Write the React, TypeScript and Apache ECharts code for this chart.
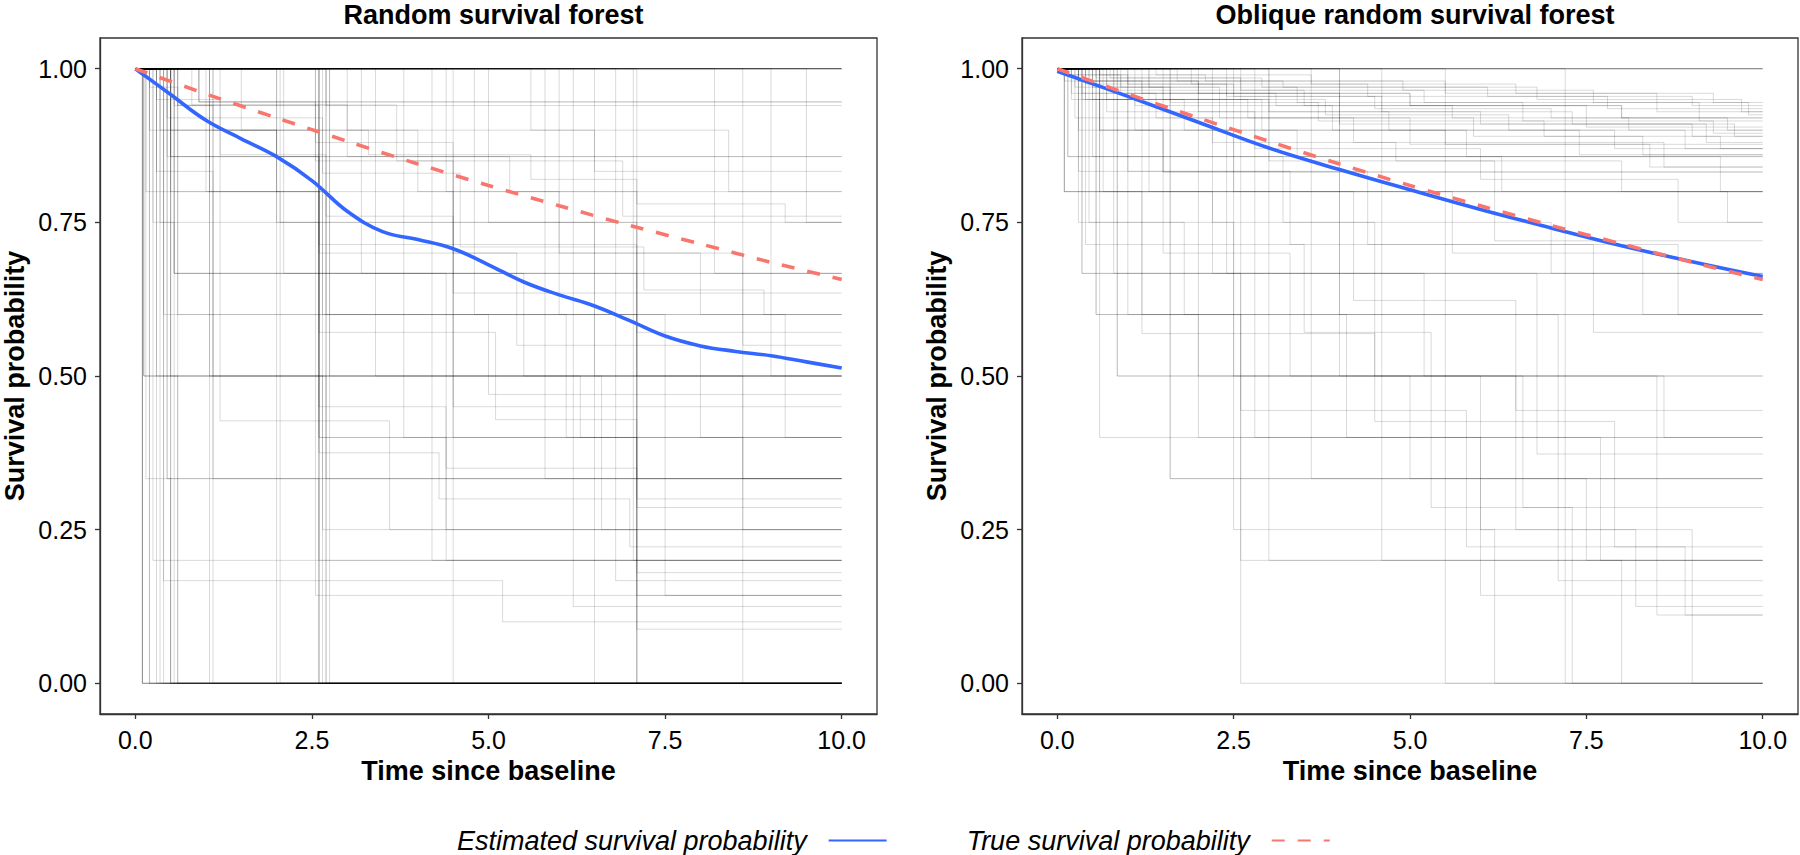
import React, { useEffect, useRef } from "react";
import * as echarts from "echarts";

// ---------- data ----------
const xTicks = [0, 2.5, 5, 7.5, 10];
const yTicks = [0, 0.25, 0.5, 0.75, 1];
const panelTitles = ["Random survival forest", "Oblique random survival forest"];
const xAxisTitle = "Time since baseline";
const yAxisTitle = "Survival probability";
const legendNames = ["Estimated survival probability", "True survival probability"];

// estimated (smoothed) survival, left panel
const rsfEstimated: [number, number][] = [
  [0, 1], [0.5, 0.958], [1, 0.916], [1.5, 0.886], [2, 0.857], [2.5, 0.818],
  [3, 0.768], [3.5, 0.735], [4, 0.722], [4.5, 0.707], [5, 0.681], [5.5, 0.653],
  [6, 0.632], [6.5, 0.614], [7, 0.59], [7.5, 0.565], [8, 0.549], [8.5, 0.54],
  [9, 0.533], [9.5, 0.523], [10, 0.513],
];

// estimated survival, right panel
const orsfEstimated: [number, number][] = [
  [0, 0.996], [1, 0.955], [2, 0.913], [3, 0.871], [4, 0.836], [5, 0.803],
  [6, 0.771], [7, 0.741], [8, 0.712], [9, 0.686], [10, 0.662],
];

// true survival probability (both panels)
const trueSurvival: [number, number][] = [
  [0, 1], [1, 0.959], [2, 0.92], [3, 0.882], [4, 0.845], [5, 0.81],
  [6, 0.777], [7, 0.745], [8, 0.715], [9, 0.685], [10, 0.657],
];

// individual predicted survival curves: [count, [[event time, survival after], ...]]
const rsfCurves: [number, [number, number][]][] = [
  [10, []],
  [4, [[0.1, 0]]],
  [2, [[0.2, 0]]],
  [2, [[0.5, 0]]],
  [1, [[0.3, 0]]],
  [1, [[0.35, 0]]],
  [1, [[0.4, 0]]],
  [1, [[0.6, 0]]],
  [1, [[1.05, 0]]],
  [1, [[1.1, 0]]],
  [1, [[2.0, 0]]],
  [1, [[2.05, 0]]],
  [2, [[2.6, 0]]],
  [1, [[2.65, 0]]],
  [1, [[2.7, 0]]],
  [1, [[2.75, 0]]],
  [1, [[4.5, 0]]],
  [1, [[7.1, 0]]],
  [1, [[8.6, 0]]],
  [1, [[6.5, 0]]],
  [3, [[0.12, 0.5]]],
  [2, [[0.45, 0.333]]],
  [2, [[0.55, 0.667]]],
  [2, [[0.5, 0.857]]],
  [2, [[0.9, 0.946]]],
  [1, [[0.6, 0.6], [4.5, 0.4]]],
  [1, [[0.3, 0.5], [0.6, 0]]],
  [1, [[0.25, 0.75], [0.55, 0]]],
  [1, [[0.15, 0.333], [0.5, 0]]],
  [1, [[0.55, 0.667], [1.1, 0.333], [2.6, 0]]],
  [1, [[0.4, 0.6], [2.6, 0.2], [7.1, 0]]],
  [1, [[1.05, 0.8], [2.05, 0.75]]],
  [1, [[2.0, 0.857], [2.6, 0.714], [7.1, 0.571]]],
  [1, [[2.7, 0.333]]],
  [1, [[2.75, 0.5], [4.4, 0.25]]],
  [1, [[0.35, 0.75], [1.1, 0.5], [2.65, 0.25], [7.1, 0]]],
  [1, [[3.2, 0.667], [5.5, 0.5], [8.6, 0.333]]],
  [1, [[4.4, 0.8], [7.1, 0.6]]],
  [1, [[5.0, 0.75], [6.5, 0.5]]],
  [1, [[7.05, 0.2]]],
  [1, [[1.5, 0.9], [4.0, 0.8], [6.0, 0.7], [8.0, 0.6]]],
  [1, [[0.25, 0.2]]],
  [1, [[0.4, 0.167], [5.2, 0.1]]],
  [1, [[2.55, 0.143]]],
  [1, [[1.2, 0.427], [3.6, 0.25]]],
  [1, [[0.8, 0.941], [3.0, 0.9], [6.5, 0.833]]],
  [1, [[0.2, 0.9], [2.6, 0.75], [4.5, 0.6], [7.1, 0.4], [8.6, 0.25]]],
  [1, [[6.8, 0.167]]],
  [1, [[9.0, 0.5]]],
  [1, [[3.8, 0.4], [7.1, 0.088]]],
  [1, [[2.6, 0.6], [5.0, 0.47]]],
  [1, [[5.8, 0.333]]],
  [1, [[0.3, 0.95], [1.2, 0.86], [2.7, 0.76], [4.5, 0.635]]],
  [1, [[2.1, 0.667], [4.4, 0.5], [7.1, 0.333]]],
  [1, [[9.5, 0.75]]],
  [1, [[6.2, 0.125]]],
  [1, [[3.0, 0.857], [5.3, 0.8]]],
  [1, [[1.05, 0.5], [2.7, 0]]],
  [1, [[0.5, 0.8], [2.6, 0.4]]],
  [1, [[4.2, 0.2]]],
  [1, [[8.2, 0.667]]],
  [1, [[2.55, 0.88], [4.5, 0.75], [7.1, 0.5]]],
  [1, [[0.2, 0.97], [0.6, 0.94], [2.6, 0.9], [3.3, 0.86], [5.6, 0.82], [7.1, 0.78], [9.2, 0.75]]],
  [1, [[0.45, 0.92], [2.65, 0.83], [4.6, 0.71], [7.2, 0.64], [8.9, 0.6]]],
  [1, [[1.1, 0.75], [2.6, 0.5], [6.3, 0.4], [7.1, 0.286]]],
  [1, [[0.5, 0.5], [2.6, 0.375], [4.3, 0.3], [7.0, 0.222]]],
  [1, [[0.3, 0.833], [1.1, 0.667], [2.6, 0.4], [4.4, 0.2]]],
  [1, [[0.5, 0.9], [2.0, 0.8], [2.7, 0.6], [7.1, 0.45]]],
  [1, [[0.45, 0.857], [2.6, 0.571], [5.1, 0.429], [7.1, 0.143]]],
  [1, [[0.9, 0.946], [2.55, 0.85], [4.5, 0.7], [8.6, 0.55]]],
  [1, [[0.6, 0.941], [3.7, 0.85], [6.9, 0.76]]],
  [1, [[0.15, 0.8], [2.65, 0.6], [6.1, 0.4], [7.1, 0.2]]],
  [1, [[2.6, 0.8], [4.5, 0.45], [7.1, 0.3]]],
  [1, [[3.4, 0.5], [6.6, 0.25]]],
  [1, [[4.8, 0.6], [7.5, 0.143]]],
  [1, [[0.55, 0.94], [1.1, 0.9], [2.6, 0.7], [5.4, 0.55], [8.0, 0.4]]],
  [1, [[1.0, 0.8], [2.6, 0.667], [7.1, 0.5]]],
  [1, [[0.35, 0.9], [2.0, 0.75], [2.6, 0.45], [4.4, 0.35], [7.1, 0.18]]],
  [1, [[5.6, 0.9], [8.4, 0.8]]],
  [1, [[2.7, 0.94]]],
  [1, [[6.0, 0.6], [9.2, 0.4]]],
];

const orsfCurves: [number, [number, number][]][] = [
  [5, []],
  [2, [[0.3, 0.98], [2.0, 0.96], [5.0, 0.94], [8.0, 0.92]]],
  [1, [[0.5, 0.97], [1.5, 0.95], [3.0, 0.93], [6.0, 0.91], [9.0, 0.89]]],
  [1, [[0.2, 0.99], [1.0, 0.975], [2.5, 0.955], [4.5, 0.935], [7.0, 0.92], [9.5, 0.9]]],
  [1, [[0.8, 0.965], [3.5, 0.94], [7.5, 0.905]]],
  [2, [[0.15, 0.857]]],
  [1, [[0.4, 0.95], [1.8, 0.9], [5.5, 0.877]]],
  [3, [[0.1, 0.8]]],
  [2, [[0.6, 0.9], [1.5, 0.832]]],
  [2, [[0.35, 0.667]]],
  [2, [[0.55, 0.6]]],
  [2, [[0.85, 0.5]]],
  [1, [[0.6, 0.8], [1.2, 0.6], [2.0, 0.4]]],
  [1, [[0.6, 0.4]]],
  [2, [[1.6, 0.333]]],
  [1, [[0.3, 0.75], [2.5, 0.5], [5.0, 0.333], [7.5, 0.2]]],
  [1, [[1.0, 0.6], [2.6, 0.2]]],
  [1, [[2.6, 0]]],
  [1, [[0.4, 0.714], [3.5, 0.571], [5.3, 0.286], [7.3, 0]]],
  [1, [[1.3, 0.8], [4.2, 0.623], [6.5, 0.444]]],
  [1, [[2.2, 0.75], [4.5, 0.5], [6.5, 0.25], [8.2, 0.125]]],
  [1, [[0.7, 0.93], [2.8, 0.87], [6.0, 0.82], [8.8, 0.75]]],
  [1, [[3.0, 0.85], [6.2, 0.72]]],
  [1, [[0.9, 0.96], [4.0, 0.91], [9.2, 0.88]]],
  [1, [[1.7, 0.98], [5.5, 0.96], [8.5, 0.93]]],
  [1, [[0.25, 0.92], [2.2, 0.88], [4.8, 0.85], [8.0, 0.8]]],
  [1, [[5.5, 0]]],
  [1, [[3.6, 0.333], [7.1, 0.167]]],
  [1, [[2.8, 0.4], [6.0, 0.143]]],
  [1, [[4.0, 0.5], [8.5, 0.111]]],
  [1, [[1.2, 0.569], [4.5, 0.426], [7.9, 0.222]]],
  [1, [[2.4, 0.667], [6.8, 0.373]]],
  [1, [[0.5, 0.95], [2.9, 0.9], [5.8, 0.857], [9.4, 0.8]]],
  [1, [[0.45, 0.98], [3.2, 0.97], [6.8, 0.95], [9.7, 0.93]]],
  [1, [[7.2, 0]]],
  [1, [[4.6, 0.2]]],
  [1, [[1.1, 0.94], [3.9, 0.9], [7.4, 0.86]]],
  [1, [[0.3, 0.833], [3.3, 0.714], [8.8, 0.6]]],
  [1, [[0.2, 0.96], [1.4, 0.92], [4.2, 0.88], [8.6, 0.84]]],
  [1, [[2.0, 0.5], [6.0, 0.25], [9.0, 0]]],
  [1, [[0.75, 0.985], [2.6, 0.965], [5.2, 0.945], [9.1, 0.915]]],
  [1, [[1.9, 0.975], [4.4, 0.955], [7.8, 0.935]]],
  [1, [[0.15, 0.99], [0.9, 0.97], [2.3, 0.95], [3.8, 0.925], [6.4, 0.9], [8.9, 0.87]]],
  [1, [[0.6, 0.99], [2.1, 0.98], [4.9, 0.965], [7.6, 0.945], [9.8, 0.925]]],
  [1, [[1.3, 0.97], [3.4, 0.945], [6.6, 0.915], [9.3, 0.895]]],
  [1, [[0.35, 0.95], [2.7, 0.92], [5.9, 0.89], [8.3, 0.86]]],
  [1, [[0.1, 0.98], [1.2, 0.96], [3.1, 0.94], [5.6, 0.92], [8.1, 0.9]]],
  [1, [[0.4, 0.975], [2.4, 0.955], [4.6, 0.93], [7.3, 0.91], [9.6, 0.89]]],
  [1, [[0.25, 0.97], [1.6, 0.945], [3.7, 0.915], [6.9, 0.89], [9.4, 0.87]]],
  [1, [[0.55, 0.985], [2.9, 0.97], [6.1, 0.955], [9.0, 0.94]]],
  [1, [[0.2, 0.95], [1.1, 0.9], [3.4, 0.857], [6.3, 0.8], [9.5, 0.75]]],
  [1, [[0.3, 0.9], [2.5, 0.8], [5.6, 0.7], [8.3, 0.6]]],
  [1, [[0.5, 0.857], [3.2, 0.75], [7.0, 0.667]]],
  [1, [[0.65, 0.8], [2.2, 0.667], [5.2, 0.5], [8.6, 0.4]]],
  [1, [[0.45, 0.75], [1.8, 0.6], [4.1, 0.4], [7.7, 0.2]]],
  [1, [[1.5, 0.7], [3.3, 0.5], [6.6, 0.286]]],
  [1, [[0.8, 0.667], [2.6, 0.444], [5.8, 0.222], [8.9, 0.111]]],
  [1, [[2.5, 0.25], [6.2, 0]]],
  [1, [[1.0, 0.833], [4.4, 0.714], [7.6, 0.571]]],
  [1, [[0.35, 0.96], [2.0, 0.93], [4.7, 0.9], [7.9, 0.87]]],
  [1, [[1.4, 0.99], [3.6, 0.975], [6.5, 0.96], [9.3, 0.945]]],
  [1, [[0.7, 0.95], [2.3, 0.92], [5.0, 0.877], [8.4, 0.84]]],
  [1, [[4.0, 0.6], [7.1, 0.333]]],
  [1, [[3.0, 0.2], [8.0, 0]]],
];

// ---------- styling ----------
const FONT = "'Liberation Sans', Arial, Helvetica, sans-serif";
const BLUE = "#3366FF";
const RED = "#F8766D";
const GRIDS = [
  { left: 100, top: 38, width: 777, height: 676 },
  { left: 1022, top: 38, width: 776, height: 676 },
];

function curveSeries(curves: [number, [number, number][]][], idx: number) {
  return curves.map(([count, steps], k) => {
    const last = steps.length ? steps[steps.length - 1][1] : 1;
    const data: [number, number][] = [[0, 1], ...steps, [10, last]];
    return {
      type: "line",
      name: `curve-${idx}-${k}`,
      xAxisIndex: idx,
      yAxisIndex: idx,
      step: "end",
      symbol: "none",
      silent: true,
      z: 1,
      lineStyle: { color: "#000", width: 1, opacity: 1 - Math.pow(0.85, count) },
      emphasis: { disabled: true },
      data,
    };
  });
}

function App() {
  const ref = useRef<HTMLDivElement>(null);
  useEffect(() => {
    if (!ref.current) return;
    const chart = echarts.init(ref.current, undefined, { renderer: "svg" });
    const axisText = { fontSize: 25, color: "#000", fontFamily: FONT };
    const nameText = { fontSize: 27, fontWeight: "bold", color: "#000", fontFamily: FONT };
    const axisLine = { show: true, onZero: false, lineStyle: { color: "#333", width: 1.3 } };
    const xAxes = GRIDS.map((_, i) => ({
      type: "value",
      gridIndex: i,
      min: -0.5,
      max: 10.5,
      name: xAxisTitle,
      nameLocation: "middle",
      nameGap: 43,
      nameTextStyle: nameText,
      axisLine,
      axisTick: { show: true, length: 5, lineStyle: { color: "#333", width: 1.3 }, customValues: xTicks },
      axisLabel: { ...axisText, margin: 13, customValues: xTicks, formatter: (v: number) => v.toFixed(1) },
      splitLine: { show: false },
    }));
    const yAxes = GRIDS.map((_, i) => ({
      type: "value",
      gridIndex: i,
      min: -0.05,
      max: 1.05,
      name: yAxisTitle,
      nameLocation: "middle",
      nameGap: 72,
      nameRotate: 90,
      nameTextStyle: nameText,
      axisLine,
      axisTick: { show: true, length: 5, lineStyle: { color: "#333", width: 1.3 }, customValues: yTicks },
      axisLabel: { ...axisText, margin: 13, customValues: yTicks, formatter: (v: number) => v.toFixed(2) },
      splitLine: { show: false },
    }));

    const series: any[] = [
      ...curveSeries(rsfCurves, 0),
      ...curveSeries(orsfCurves, 1),
    ];
    [rsfEstimated, orsfEstimated].forEach((d, i) => {
      series.push({
        type: "line",
        name: legendNames[0],
        xAxisIndex: i,
        yAxisIndex: i,
        smooth: 0.4,
        symbol: "none",
        z: 3,
        lineStyle: { color: BLUE, width: 3.6 },
        itemStyle: { color: BLUE },
        data: d,
      });
    });
    [0, 1].forEach((i) => {
      series.push({
        type: "line",
        name: legendNames[1],
        xAxisIndex: i,
        yAxisIndex: i,
        smooth: 0.3,
        symbol: "none",
        z: 4,
        lineStyle: { color: RED, width: 3.6, type: [13, 13] },
        itemStyle: { color: RED },
        data: trueSurvival,
      });
    });

    chart.setOption({
      animation: false,
      backgroundColor: "#fff",
      title: panelTitles.map((t, i) => ({
        text: t,
        left: GRIDS[i].left + GRIDS[i].width / 2,
        top: -4,
        textAlign: "center",
        textStyle: { fontSize: 27, fontWeight: "bold", color: "#000", fontFamily: FONT },
      })),
      grid: GRIDS.map((g) => ({ ...g, show: true, borderColor: "#333", borderWidth: 1.3, backgroundColor: "transparent" })),
      xAxis: xAxes,
      yAxis: yAxes,
      legend: {
        data: legendNames,
        left: 452,
        top: 822,
        align: "right",
        itemWidth: 58,
        itemHeight: 30,
        itemGap: 79,
        selectedMode: false,
        itemStyle: { color: "rgba(0,0,0,0)", borderWidth: 0, opacity: 0 },
        textStyle: { fontSize: 27, fontStyle: "italic", color: "#000", fontFamily: FONT, padding: [0, 17, 0, 0] },
      },
      series,
    });
    return () => chart.dispose();
  }, []);
  return (
    <div
      ref={ref}
      style={{ position: "absolute", left: 0, top: 0, width: 1800, height: 855 }}
    />
  );
}

export default App;
